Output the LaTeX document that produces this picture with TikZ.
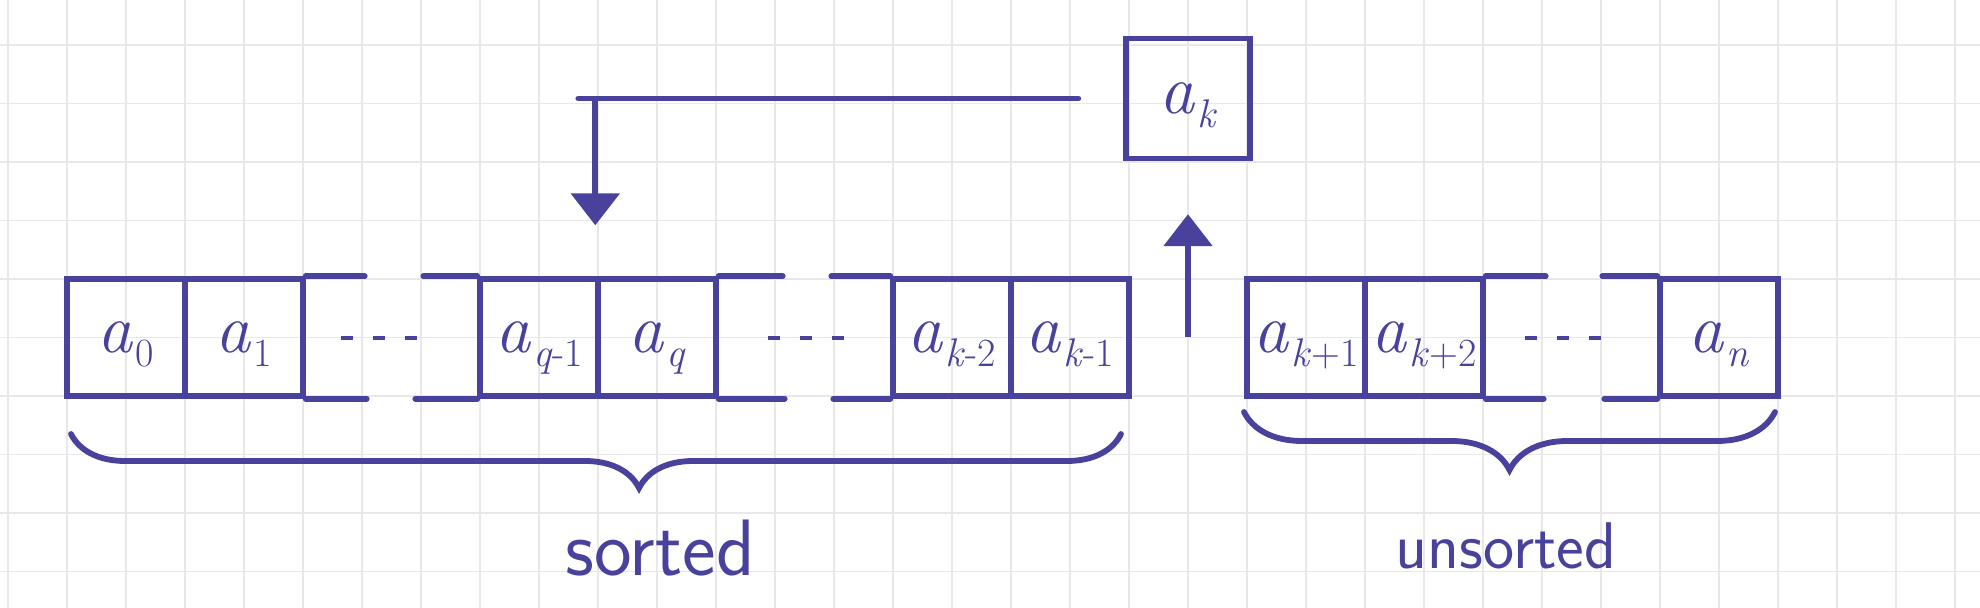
\documentclass[tikz,border=0pt]{standalone}
\usetikzlibrary{arrows.meta,decorations.pathreplacing}
\definecolor{inkc}{RGB}{72,66,156}
\definecolor{gridc}{RGB}{232,232,234}
\newcommand\alab[1]{\textit{a}\kern1pt\raisebox{-7pt}{\fontsize{20}{20}\selectfont #1}}
\begin{document}
\begin{tikzpicture}[x=0.5pt,y=-0.5pt,
  gridl/.style={draw=gridc,line width=0.8pt},
  ink/.style={draw=inkc,line width=2.9pt,line cap=round},
  cell/.style={draw=inkc,line width=2.7pt,minimum width=59pt,minimum height=58.5pt,
    inner sep=0pt,text=inkc,font=\fontsize{35}{38}\selectfont,text height=15pt,text depth=0pt},
  arr/.style={ink,line cap=butt,-{Triangle[width=24pt,length=16pt]}},
  dots/.style={ink,line cap=butt,line width=2.4pt,dash pattern=on 6pt off 10pt},
  bracel/.style={ink,decorate,decoration={brace,mirror,raise=0pt}},
  lbl/.style={text=inkc,font=\sffamily}
]
\useasboundingbox (0,0) rectangle (1980,608);
\fill[white] (0,0) rectangle (1980,608);
% paper grid
\foreach \i in {0,...,33} \draw[gridl] ({8+59*\i},0) -- ({8+59*\i},608);
\foreach \j in {0,...,9} \draw[gridl] (0,{45+58.5*\j}) -- (1980,{45+58.5*\j});

% sorted cells
\node[cell] (a0)  at (126,337.5)  {\alab{0}};
\node[cell] (a1)  at (244,337.5)  {\alab{1}};
\node[cell] (aq1) at (539,337.5)  {\alab{\textit{q}-1}};
\node[cell] (aq)  at (657,337.5)  {\alab{\textit{q}}};
\node[cell] (ak2) at (952,337.5)  {\alab{\textit{k}-2}};
\node[cell] (ak1) at (1070,337.5) {\alab{\textit{k}-1}};
% unsorted cells
\node[cell] (akp1) at (1306,337.5) {\alab{\textit{k}+1}};
\node[cell] (akp2) at (1424,337.5) {\alab{\textit{k}+2}};
\node[cell] (an)   at (1719,337.5) {\alab{\textit{n}}};
% key
\node[cell,minimum width=62pt,minimum height=60pt] (ak) at (1188,98.5) {\alab{\textit{k}}};

% open ends of the arrays
\draw[ink] (a1.north east) -- ++(59,0);
\draw[ink] (a1.south east) -- ++(61,0);
\draw[ink] (aq1.north west) -- ++(-54,0);
\draw[ink] (aq1.south west) -- ++(-62,0);
\draw[ink] (aq.north east) -- ++(64,0);
\draw[ink] (aq.south east) -- ++(66,0);
\draw[ink] (ak2.north west) -- ++(-59,0);
\draw[ink] (ak2.south west) -- ++(-57,0);
\draw[ink] (akp2.north east) -- ++(60,0);
\draw[ink] (akp2.south east) -- ++(58,0);
\draw[ink] (an.north west) -- ++(-55,0);
\draw[ink] (an.south west) -- ++(-53,0);

% dots
\draw[dots] (341,338) -- (417,338);
\draw[dots] (768,338) -- (844,338);
\draw[dots] (1525,338) -- (1601,338);

% arrows
\coordinate (turn) at (aq.north west |- ak.west);
\draw[ink] ([xshift=-22.5pt]ak.west) -- ([xshift=-8.5pt]turn);
\draw[arr] (turn) -- ([yshift=25.5pt]aq.north west);
\draw[arr] (ak.south |- ak1.east) -- ([yshift=-26.5pt]ak.south);

% braces
\coordinate (sb1) at (71,434);
\coordinate (sb2) at (1121,434);
\draw[bracel,decoration={amplitude=27pt,aspect=0.541}] (sb1) -- (sb2);
\coordinate (ub1) at (1244,412);
\coordinate (ub2) at (1775,412);
\draw[bracel,decoration={amplitude=29pt,aspect=0.5}] (ub1) -- (ub2);

\node[lbl,font=\sffamily\fontsize{40}{44}\selectfont] (sorted) at (660,548) {sorted};
\node[lbl,font=\sffamily\fontsize{33}{36}\selectfont] (unsorted) at (1506,546) {unsorted};
\end{tikzpicture}
\end{document}
